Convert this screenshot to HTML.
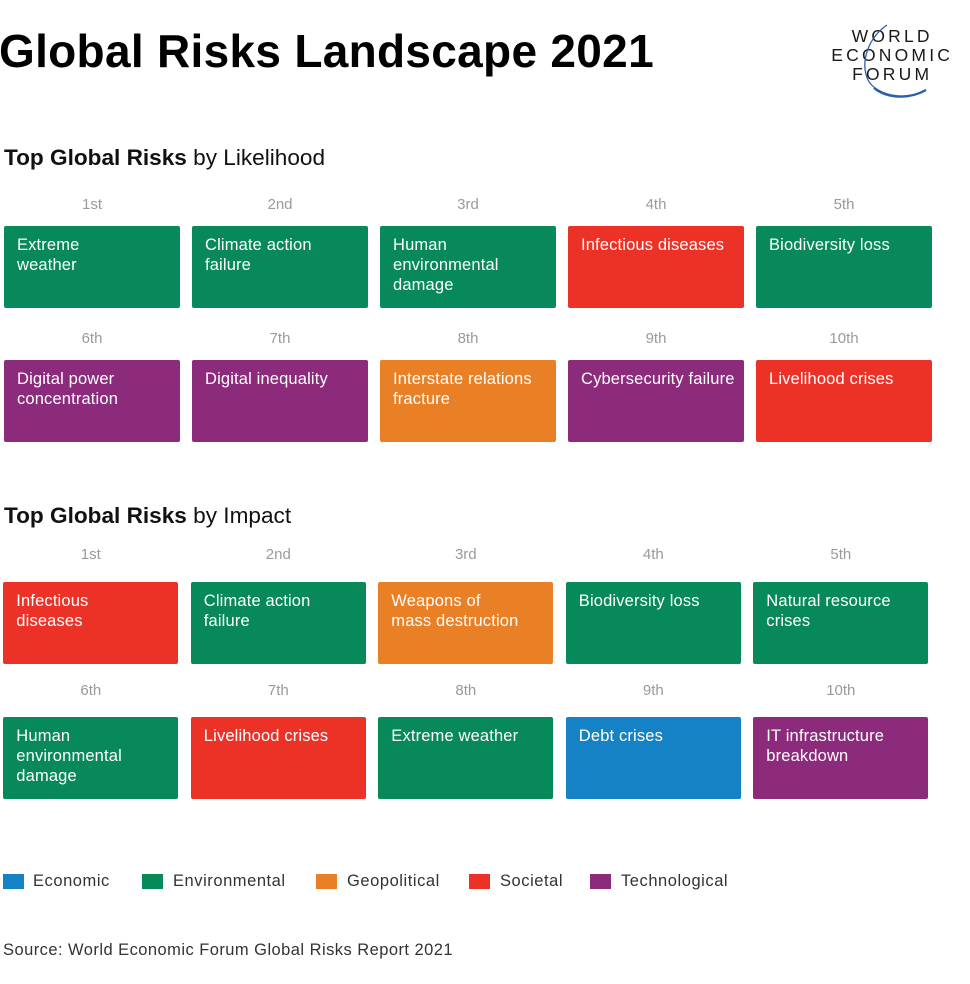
<!DOCTYPE html>
<html>
<head>
<meta charset="utf-8">
<style>
  html,body{margin:0;padding:0;background:#fff;}
  body{width:970px;height:984px;position:relative;overflow:hidden;font-family:"Liberation Sans",Arial,sans-serif;}
  .abs{position:absolute;white-space:nowrap;}
  .title{left:-1px;top:28px;font-size:46px;line-height:46px;font-weight:bold;color:#000;letter-spacing:0.3px;}
  .head{left:4px;font-size:22.6px;line-height:22px;color:#111;}
  .head b{font-weight:bold;}
  .rank{font-size:15px;line-height:15px;color:#9a9a9a;text-align:center;}
  .box{position:absolute;height:82px;border-radius:2px;color:#fff;font-size:16.5px;line-height:20px;letter-spacing:0.15px;padding:9.3px 0 0 13px;box-sizing:border-box;white-space:nowrap;}
  .g{background:#07895a;}
  .r{background:#ec3127;}
  .o{background:#e98025;}
  .p{background:#8c2a7c;}
  .b{background:#1682c6;}
  .leg{font-size:16.5px;line-height:16.5px;letter-spacing:0.55px;color:#333;}
  .src{font-size:16.5px;line-height:16.5px;letter-spacing:0.45px;color:#333;}
  .sq{position:absolute;width:21px;height:15px;}
  .logo{left:826px;top:26.6px;width:126px;text-align:center;font-size:17.5px;line-height:19.2px;letter-spacing:3.2px;padding-left:3.2px;color:#1a1a1a;}
</style>
</head>
<body>
<div class="abs title">Global Risks Landscape 2021</div>

<div class="abs logo">WORLD<br>ECONOMIC<br>FORUM</div>
<svg class="abs" style="left:0;top:0" width="970" height="120">
  <path d="M887,25 C868,38 860,62 868,80 C876,95 905,102 926,90" fill="none" stroke="#2b5fa9" stroke-width="1.3"/>
  <path d="M874,88 C886,98 908,100 926,90" fill="none" stroke="#2b5fa9" stroke-width="2.4"/>
</svg>

<div class="abs head" style="top:147.4px"><b>Top Global Risks</b> by Likelihood</div>

<div class="abs rank" style="left:4px;width:176px;top:197.3px">1st</div>
<div class="abs rank" style="left:192px;width:176px;top:197.3px">2nd</div>
<div class="abs rank" style="left:380px;width:176px;top:197.3px">3rd</div>
<div class="abs rank" style="left:568px;width:176px;top:197.3px">4th</div>
<div class="abs rank" style="left:756px;width:176px;top:197.3px">5th</div>

<div class="box g" style="left:4px;top:226px;width:176px">Extreme<br>weather</div>
<div class="box g" style="left:192px;top:226px;width:176px">Climate action<br>failure</div>
<div class="box g" style="left:380px;top:226px;width:176px">Human<br>environmental<br>damage</div>
<div class="box r" style="left:568px;top:226px;width:176px">Infectious diseases</div>
<div class="box g" style="left:756px;top:226px;width:176px">Biodiversity loss</div>

<div class="abs rank" style="left:4px;width:176px;top:331.3px">6th</div>
<div class="abs rank" style="left:192px;width:176px;top:331.3px">7th</div>
<div class="abs rank" style="left:380px;width:176px;top:331.3px">8th</div>
<div class="abs rank" style="left:568px;width:176px;top:331.3px">9th</div>
<div class="abs rank" style="left:756px;width:176px;top:331.3px">10th</div>

<div class="box p" style="left:4px;top:360px;width:176px">Digital power<br>concentration</div>
<div class="box p" style="left:192px;top:360px;width:176px">Digital inequality</div>
<div class="box o" style="left:380px;top:360px;width:176px">Interstate relations<br>fracture</div>
<div class="box p" style="left:568px;top:360px;width:176px">Cybersecurity failure</div>
<div class="box r" style="left:756px;top:360px;width:176px">Livelihood crises</div>

<div class="abs head" style="top:505.4px"><b>Top Global Risks</b> by Impact</div>

<div class="abs rank" style="left:3.3px;width:175px;top:547.3px">1st</div>
<div class="abs rank" style="left:190.8px;width:175px;top:547.3px">2nd</div>
<div class="abs rank" style="left:378.3px;width:175px;top:547.3px">3rd</div>
<div class="abs rank" style="left:565.8px;width:175px;top:547.3px">4th</div>
<div class="abs rank" style="left:753.3px;width:175px;top:547.3px">5th</div>

<div class="box r" style="left:3.3px;top:582px;width:175px">Infectious<br>diseases</div>
<div class="box g" style="left:190.8px;top:582px;width:175px">Climate action<br>failure</div>
<div class="box o" style="left:378.3px;top:582px;width:175px">Weapons of<br>mass destruction</div>
<div class="box g" style="left:565.8px;top:582px;width:175px">Biodiversity loss</div>
<div class="box g" style="left:753.3px;top:582px;width:175px">Natural resource<br>crises</div>

<div class="abs rank" style="left:3.3px;width:175px;top:683px">6th</div>
<div class="abs rank" style="left:190.8px;width:175px;top:683px">7th</div>
<div class="abs rank" style="left:378.3px;width:175px;top:683px">8th</div>
<div class="abs rank" style="left:565.8px;width:175px;top:683px">9th</div>
<div class="abs rank" style="left:753.3px;width:175px;top:683px">10th</div>

<div class="box g" style="left:3.3px;top:716.5px;width:175px">Human<br>environmental<br>damage</div>
<div class="box r" style="left:190.8px;top:716.5px;width:175px">Livelihood crises</div>
<div class="box g" style="left:378.3px;top:716.5px;width:175px">Extreme weather</div>
<div class="box b" style="left:565.8px;top:716.5px;width:175px">Debt crises</div>
<div class="box p" style="left:753.3px;top:716.5px;width:175px">IT infrastructure<br>breakdown</div>

<div class="sq b" style="left:3px;top:874px"></div>
<div class="abs leg" style="left:33px;top:872.7px">Economic</div>
<div class="sq g" style="left:142px;top:874px"></div>
<div class="abs leg" style="left:173px;top:872.7px">Environmental</div>
<div class="sq o" style="left:316px;top:874px"></div>
<div class="abs leg" style="left:347px;top:872.7px">Geopolitical</div>
<div class="sq r" style="left:469px;top:874px"></div>
<div class="abs leg" style="left:500px;top:872.7px">Societal</div>
<div class="sq p" style="left:590px;top:874px"></div>
<div class="abs leg" style="left:621px;top:872.7px">Technological</div>

<div class="abs src" style="left:3px;top:941.7px">Source: World Economic Forum Global Risks Report 2021</div>
</body>
</html>
